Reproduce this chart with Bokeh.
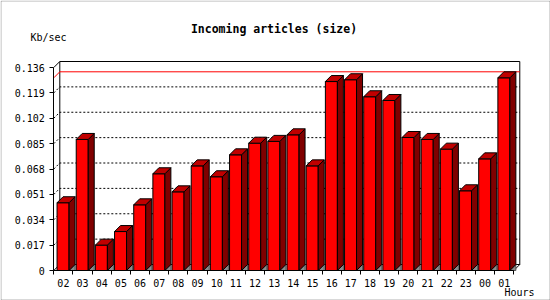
from bokeh.plotting import figure
from bokeh.models import Range1d, FixedTicker, Label, BoxAnnotation, ColumnDataSource, LinearAxis
from bokeh.embed import file_html
from bokeh.resources import INLINE

# ---- data ----
hours = ["02", "03", "04", "05", "06", "07", "08", "09", "10", "11", "12", "13",
         "14", "15", "16", "17", "18", "19", "20", "21", "22", "23", "00", "01"]
kb_per_sec = [0.0454, 0.0878, 0.0170, 0.0261, 0.0440, 0.0648, 0.0527, 0.0701,
              0.0628, 0.0775, 0.0853, 0.0865, 0.0909, 0.0701, 0.1266, 0.1278,
              0.1164, 0.1139, 0.0891, 0.0878, 0.0813, 0.0534, 0.0748, 0.1291]
y_ticks = [0, 0.017, 0.034, 0.051, 0.068, 0.085, 0.102, 0.119, 0.136]
y_tick_labels = ["0", "0.017", "0.034", "0.051", "0.068", "0.085", "0.102", "0.119", "0.136"]
title_text = "Incoming articles (size)"
y_title = "Kb/sec"
x_title = "Hours"

# ---- geometry (pixel scale of the reference) ----
SX = 19.166      # px per hour slot
SY = 1492.6      # px per Kb/sec unit
DEPTH = 6        # 3D depth in px
dx = DEPTH / SX
dy = DEPTH / SY
BAR_OFF = 0.17
BAR_W = 0.626
n = len(hours)
ytop = y_ticks[-1]

W, H = 550, 300
X0_PX, Y0_PX = 53.3, 270   # where (0, 0) sits on the canvas

def sx(px):
    return (px - X0_PX) / SX

def sy(py):
    return (Y0_PX - py) / SY

FONT = "DejaVu Sans Mono"

p = figure(width=W, height=H, x_range=Range1d(sx(0), sx(W)), y_range=Range1d(sy(H), sy(0)),
           min_border=0, x_axis_location=None, y_axis_location=None,
           output_backend="svg", toolbar_location=None,
           background_fill_color="white", border_fill_color="white")
p.outline_line_color = None
p.grid.visible = False

# ---- back box, grid ----
grid_vals = y_ticks[1:-1]
p.multi_line(xs=[[0, dx, n + dx] for _ in grid_vals],
             ys=[[t, t + dy, t + dy] for t in grid_vals],
             line_color="black", line_width=1, line_dash="2 2")

frame_xs = [[0, dx, n + dx], [dx, dx], [n, n + dx, n + dx], [0, dx, n + dx]]
frame_ys = [[ytop, ytop + dy, ytop + dy], [dy, ytop + dy], [0, dy, ytop + dy], [0, dy, dy]]
p.multi_line(xs=frame_xs, ys=frame_ys, line_color="black", line_width=1)

m = max(kb_per_sec)
p.line(x=[0, dx, n + dx], y=[m, m + dy, m + dy], line_color="red", line_width=1)

# ---- bars ----
x0 = [i + BAR_OFF for i in range(n)]
x1 = [a + BAR_W for a in x0]

tri = ColumnDataSource(dict(
    xs=[[b, b + dx, b + dx] for b in x1],
    ys=[[0, dy, 0] for _ in x1]))
p.patches("xs", "ys", source=tri, fill_color="#8c8c8c", line_color="#555555", line_width=1)

p.quad(left=x0, right=x1, bottom=[0] * n, top=kb_per_sec,
       fill_color="#ff0000", line_color="black", line_width=1)

side = ColumnDataSource(dict(
    xs=[[b, b + dx, b + dx, b] for b in x1],
    ys=[[0, dy, v + dy, v] for v in kb_per_sec]))
p.patches("xs", "ys", source=side, fill_color="#800000", line_color="black", line_width=1)

top = ColumnDataSource(dict(
    xs=[[a, b, b + dx, a + dx] for a, b in zip(x0, x1)],
    ys=[[v, v, v + dy, v + dy] for v in kb_per_sec]))
p.patches("xs", "ys", source=top, fill_color="#c00000", line_color="black", line_width=1)

# ---- axes (pinned at the data origin) ----
yax = LinearAxis(fixed_location=0)
yax.ticker = FixedTicker(ticks=y_ticks)
yax.major_label_overrides = dict(zip(y_ticks, y_tick_labels))
yax.bounds = (0, ytop)
yax.major_tick_out = 4
yax.major_tick_in = 0
yax.minor_tick_out = 0
yax.minor_tick_in = 0
yax.major_label_standoff = 5
yax.axis_line_color = "black"
yax.major_tick_line_color = "black"
yax.major_label_text_font = FONT
yax.major_label_text_font_size = "10px"
yax.major_label_text_color = "black"
p.add_layout(yax, "left")

centers = [i + 0.5 for i in range(n)]
xax = LinearAxis(fixed_location=0)
xax.ticker = FixedTicker(ticks=centers, minor_ticks=list(range(n + 1)))
xax.major_label_overrides = dict(zip(centers, hours))
xax.bounds = (0, n)
xax.major_tick_out = 0
xax.major_tick_in = 0
xax.minor_tick_out = 4
xax.minor_tick_in = 0
xax.minor_tick_line_color = "black"
xax.major_label_standoff = 4
xax.axis_line_color = "black"
xax.major_label_text_font = FONT
xax.major_label_text_font_size = "10px"
xax.major_label_text_color = "black"
p.add_layout(xax, "below")

# ---- texts ----
p.add_layout(Label(x=sx(273.5), y=sy(28), text=title_text, text_align="center",
                   text_baseline="middle", text_font=FONT, text_font_style="bold",
                   text_font_size="11.5px", text_color="black"))
p.add_layout(Label(x=sx(30), y=sy(37), text=y_title, text_align="left",
                   text_baseline="middle", text_font=FONT, text_font_size="10px",
                   text_color="black"))
p.add_layout(Label(x=sx(504), y=sy(292), text=x_title, text_align="left",
                   text_baseline="middle", text_font=FONT, text_font_size="10px",
                   text_color="black"))

# ---- outer border ----
p.add_layout(BoxAnnotation(left=sx(0.5), right=sx(549.5), top=sy(0.5), bottom=sy(299.5),
                           fill_color=None, line_color="black", line_width=1))

open("out.html", "w").write(file_html(p, INLINE))
